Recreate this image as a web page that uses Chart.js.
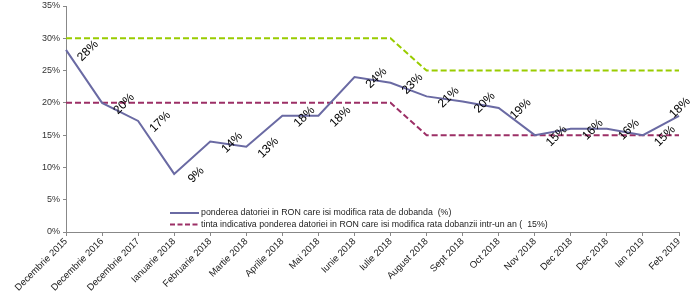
<!DOCTYPE html>
<html>
<head>
<meta charset="utf-8">
<script src="https://cdn.jsdelivr.net/npm/chart.js@4/dist/chart.umd.min.js"></script>
<style>
  html, body { margin: 0; padding: 0; background: #fff; }
  #wrap { width: 700px; height: 293px; }
</style>
</head>
<body>
<div id="wrap"><canvas id="chart" width="700" height="293"></canvas></div>
<script>
// Categories along the x axis
const months = ["Decembrie 2015", "Decembrie 2016", "Decembrie 2017", "Ianuarie 2018", "Februarie 2018",
    "Martie 2018", "Aprilie 2018", "Mai 2018", "Iunie 2018", "Iulie 2018", "August 2018", "Sept 2018",
    "Oct 2018", "Nov 2018", "Dec 2018", "Dec 2018", "Ian 2019", "Feb 2019"];

// Share of RON debt that reprices (%)
const shareValues = [28.2, 20, 17.2, 9, 14, 13.2, 18, 18, 24, 23.1, 21, 20.2, 19.2, 15, 16, 16, 15, 18];

// Indicative target (lower) and upper band
const targetValues = [20, 20, 20, 20, 20, 20, 20, 20, 20, 20, 15, 15, 15, 15, 15, 15, 15, 15];
const upperValues = [30, 30, 30, 30, 30, 30, 30, 30, 30, 30, 25, 25, 25, 25, 25, 25, 25, 25];

const yTicks = [0, 5, 10, 15, 20, 25, 30, 35];

const shareLabel = "ponderea datoriei in RON care isi modifica rata de dobanda  (%)";
const targetLabel = "tinta indicativa ponderea datoriei in RON care isi modifica rata dobanzii intr-un an (  15%)";

// Rotated value labels next to each point of the main series
const valueLabels = {
    id: 'valueLabels',
    afterDatasetsDraw(chart) {
        const ctx = chart.ctx;
        const meta = chart.getDatasetMeta(0);
        const last = meta.data.length - 1;
        ctx.save();
        ctx.font = '12px Arial, "Liberation Sans", sans-serif';
        ctx.fillStyle = '#000';
        ctx.textAlign = 'center';
        ctx.textBaseline = 'middle';
        meta.data.forEach((pt, i) => {
            // the last label would leave the canvas, so it sits above its point
            const dx = i === last ? 1 : 22;
            const dy = i === last ? -8 : 1;
            ctx.save();
            ctx.translate(pt.x + dx, pt.y + dy);
            ctx.rotate(-Math.PI / 4);
            ctx.fillText(Math.round(shareValues[i]) + '%', 0, 0);
            ctx.restore();
        });
        ctx.restore();
    }
};

// Legend drawn inside the plot area (only the first two series)
const innerLegend = {
    id: 'innerLegend',
    afterDraw(chart) {
        const ctx = chart.ctx;
        const rows = [0, 1];
        ctx.save();
        ctx.font = '8.8px Arial, "Liberation Sans", sans-serif';
        ctx.textBaseline = 'middle';
        ctx.textAlign = 'left';
        rows.forEach((di, r) => {
            const ds = chart.data.datasets[di];
            const y = 213 + r * 11.5;
            ctx.strokeStyle = ds.borderColor;
            ctx.lineWidth = 2;
            ctx.setLineDash(di === 1 ? [5, 2.5] : []);
            ctx.beginPath();
            ctx.moveTo(170, y);
            ctx.lineTo(199, y);
            ctx.stroke();
            ctx.setLineDash([]);
            ctx.fillStyle = '#222';
            ctx.fillText(ds.label, 201, y);
        });
        ctx.restore();
    }
};

new Chart(document.getElementById('chart').getContext('2d'), {
    type: 'line',
    data: {
        labels: months,
        datasets: [{
            label: shareLabel,
            data: shareValues,
            borderColor: '#6a6aa3',
            borderWidth: 2,
            pointRadius: 0,
            tension: 0
        }, {
            label: targetLabel,
            data: targetValues,
            borderColor: '#9c2f66',
            borderWidth: 2,
            borderDash: [6, 3],
            pointRadius: 0
        }, {
            label: 'limita',
            data: upperValues,
            borderColor: '#99cc00',
            borderWidth: 2,
            borderDash: [6, 3],
            pointRadius: 0
        }]
    },
    options: {
        responsive: false,
        animation: false,
        layout: { padding: { top: 6, right: 21, left: 0, bottom: 0 } },
        plugins: {
            legend: { display: false },
            tooltip: { enabled: false }
        },
        scales: {
            x: {
                offset: false,
                grid: { drawOnChartArea: false, drawTicks: true, tickLength: 4, color: '#888' },
                border: { color: '#888' },
                ticks: {
                    autoSkip: false,
                    maxRotation: 45,
                    minRotation: 45,
                    color: '#222',
                    font: { family: 'Arial, "Liberation Sans", sans-serif', size: 9.5 },
                    padding: 0
                },
                afterFit(scale) { scale.height = 61; scale.paddingRight = 0; scale.paddingLeft = 0; }
            },
            y: {
                min: 0,
                max: 35,
                afterBuildTicks(scale) { scale.ticks = yTicks.map(v => ({ value: v })); },
                grid: { drawOnChartArea: false, drawTicks: true, tickLength: 3, color: '#888' },
                border: { color: '#888' },
                ticks: {
                    color: '#333',
                    font: { family: 'Arial, "Liberation Sans", sans-serif', size: 9 },
                    padding: 3,
                    callback: v => v + '%'
                },
                afterFit(scale) { scale.width = 66; scale.paddingTop = 0; scale.paddingBottom = 0; }
            }
        }
    },
    plugins: [valueLabels, innerLegend]
});
</script>
</body>
</html>
